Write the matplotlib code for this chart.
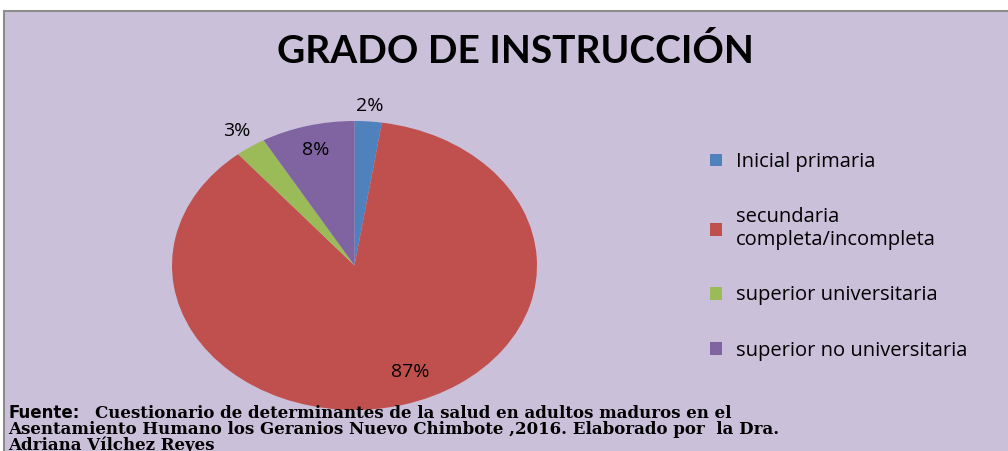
import numpy as np
import matplotlib.pyplot as plt
from matplotlib.patches import Rectangle

# data
categories = ["Inicial primaria", "secundaria\ncompleta/incompleta",
              "superior universitaria", "superior no universitaria"]
values = [2.4, 86.6, 2.7, 8.3]
colors = ["#4F81BD", "#C0504D", "#9BBB59", "#8064A2"]
label_radius = [1.11, 0.80, 1.13, 0.83]
label_shift = [0, 7, 0, 0]  # degrees, nudges the label along the wedge
title = "GRADO DE INSTRUCCIÓN"
source_lines = ["Cuestionario de determinantes de la salud en adultos maduros en el",
                "Asentamiento Humano los Geranios Nuevo Chimbote ,2016. Elaborado por  la Dra.",
                "Adriana Vílchez Reyes"]

bg = "#CBC0DA"
W, H = 1008, 451

fig = plt.figure(figsize=(W / 100, H / 100), dpi=100, facecolor="white")

# lavender chart area with gray border
fig.patches.append(Rectangle((4 / W, -0.1), 1.1, (H - 11) / H + 0.1,
                             transform=fig.transFigure, facecolor=bg,
                             edgecolor="#8C8C8C", linewidth=1.5, zorder=-5))

ax = fig.add_axes([172 / W, (H - 410) / H, 365 / W, 289 / H])
wedges, texts = ax.pie(values, colors=colors, startangle=90, counterclock=False,
                       radius=1, wedgeprops=dict(linewidth=0))
ax.set_aspect("auto")
ax.set_xlim(-1, 1)
ax.set_ylim(-1, 1)
ax.axis("off")

for w, v, r, s in zip(wedges, values, label_radius, label_shift):
    ang = np.deg2rad((w.theta1 + w.theta2) / 2 + s)
    ax.text(r * np.cos(ang), r * np.sin(ang), "%.0f%%" % v, ha="center",
            va="center", fontsize=14, family="Open Sans", color="black")

fig.text(515 / W, 1 - 51 / H, title, ha="center", va="center", fontsize=28,
         fontweight="bold", family="Lato")

handles = [Rectangle((0, 0), 1, 1, facecolor=c) for c in colors]
fig.legend(handles, categories, loc="upper left", bbox_to_anchor=(710 / W, 1 - 152 / H),
           frameon=False, prop=dict(family="Open Sans", size=14.5), handlelength=0.6,
           handleheight=0.6, handletextpad=0.7, labelspacing=1.75,
           borderaxespad=0, borderpad=0)

# source note
fig.text(8 / W, 1 - 418 / H, "Fuente:", ha="left", va="baseline", fontsize=12,
         fontweight="bold", family="DejaVu Sans")
fig.text(95 / W, 1 - 418 / H, source_lines[0], ha="left", va="baseline", fontsize=12,
         fontweight="bold", family="DejaVu Serif")
fig.text(8 / W, 1 - 434 / H, source_lines[1], ha="left", va="baseline", fontsize=12,
         fontweight="bold", family="DejaVu Serif")
fig.text(8 / W, 1 - 450 / H, source_lines[2], ha="left", va="baseline", fontsize=12,
         fontweight="bold", family="DejaVu Serif")

fig.savefig("out.png", dpi=100, facecolor="white")
